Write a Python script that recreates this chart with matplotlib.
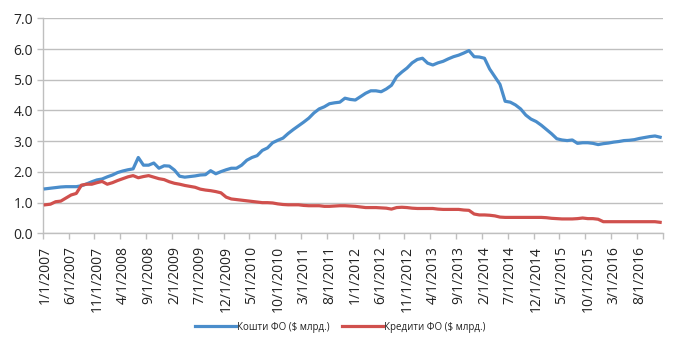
"""Ukrainian household deposits vs. loans, monthly, 2007-2016 ($ bn)."""

import matplotlib

matplotlib.use("Agg")
import matplotlib.pyplot as plt

plt.rcParams["font.family"] = ["Open Sans", "DejaVu Sans"]

START_YEAR = 2007
N_MONTHS = 120

deposits = [
    1.45, 1.47, 1.49, 1.51, 1.52, 1.52, 1.52, 1.55, 1.61, 1.68,
    1.74, 1.77, 1.84, 1.90, 1.98, 2.03, 2.07, 2.10, 2.47, 2.22,
    2.22, 2.29, 2.12, 2.20, 2.19, 2.06, 1.86, 1.83, 1.85, 1.87,
    1.90, 1.91, 2.04, 1.94, 2.01, 2.07, 2.12, 2.12, 2.22, 2.38,
    2.47, 2.53, 2.70, 2.78, 2.95, 3.03, 3.10, 3.25, 3.38, 3.50,
    3.62, 3.75, 3.92, 4.05, 4.12, 4.22, 4.25, 4.27, 4.40, 4.36,
    4.34, 4.45, 4.56, 4.64, 4.64, 4.61, 4.70, 4.82, 5.10, 5.25,
    5.38, 5.55, 5.66, 5.70, 5.54, 5.48, 5.55, 5.60, 5.68, 5.75,
    5.80, 5.87, 5.95, 5.75, 5.74, 5.70, 5.35, 5.10, 4.85, 4.30,
    4.27, 4.18, 4.05, 3.85, 3.72, 3.64, 3.52, 3.38, 3.24, 3.08,
    3.04, 3.02, 3.04, 2.93, 2.95, 2.95, 2.93, 2.89, 2.92, 2.94,
    2.97, 2.99, 3.02, 3.03, 3.05, 3.09, 3.12, 3.15, 3.17, 3.13,
]

loans = [
    0.93, 0.95, 1.03, 1.05, 1.15, 1.25, 1.30, 1.57, 1.60, 1.60,
    1.65, 1.69, 1.60, 1.65, 1.72, 1.78, 1.84, 1.88, 1.81, 1.85,
    1.88, 1.83, 1.78, 1.75, 1.68, 1.63, 1.60, 1.56, 1.53, 1.50,
    1.44, 1.41, 1.39, 1.36, 1.32, 1.18, 1.12, 1.10, 1.08, 1.06,
    1.04, 1.02, 1.00, 1.00, 0.99, 0.96, 0.94, 0.93, 0.93, 0.93,
    0.91, 0.90, 0.90, 0.90, 0.88, 0.88, 0.89, 0.90, 0.90, 0.89,
    0.88, 0.86, 0.84, 0.84, 0.84, 0.83, 0.82, 0.79, 0.84, 0.85,
    0.84, 0.82, 0.81, 0.81, 0.81, 0.81, 0.79, 0.78, 0.78, 0.78,
    0.78, 0.76, 0.75, 0.63, 0.60, 0.60, 0.59, 0.57, 0.53, 0.52,
    0.52, 0.52, 0.52, 0.52, 0.52, 0.52, 0.52, 0.51, 0.49, 0.48,
    0.47, 0.47, 0.47, 0.48, 0.50, 0.48, 0.48, 0.46, 0.38, 0.38,
    0.38, 0.38, 0.38, 0.38, 0.38, 0.38, 0.38, 0.38, 0.38, 0.36,
]

LABEL_DEPOSITS = "Кошти ФО ($ млрд.)"
LABEL_LOANS = "Кредити ФО ($ млрд.)"

BLUE = "#4A8DCB"
RED = "#D0504D"
GRID = "#BFBFBF"
TEXT = "#222222"

months = list(range(N_MONTHS))
labels = [
    f"{m % 12 + 1}/1/{START_YEAR + m // 12}" for m in range(0, N_MONTHS, 5)
]

fig = plt.figure(figsize=(6.8, 3.52), dpi=100)
ax = fig.add_axes([0.0628, 0.337, 0.9118, 0.611])

ax.plot(months, deposits, color=BLUE, linewidth=2.3, label=LABEL_DEPOSITS,
        solid_joinstyle="round", zorder=3)
ax.plot(months, loans, color=RED, linewidth=2.3, label=LABEL_LOANS,
        solid_joinstyle="round", zorder=3)

ax.set_xlim(-0.5, N_MONTHS - 0.5)
ax.set_ylim(0, 7)
ax.set_yticks([i for i in range(8)])
ax.set_yticklabels([f"{i:.1f}" for i in range(8)])
ax.grid(axis="y", color=GRID, linewidth=1.0, zorder=0)
ax.set_axisbelow(True)

# Excel-style category axis: tick marks on boundaries, labels on centers.
ax.set_xticks(list(range(0, N_MONTHS, 5)))
ax.set_xticklabels(labels, rotation=90)
ax.set_xticks([b - 0.5 for b in range(0, N_MONTHS + 1, 5)], minor=True)
ax.tick_params(axis="x", which="major", length=0, pad=9, labelsize=10,
               labelcolor=TEXT)
ax.tick_params(axis="x", which="minor", length=4, color=GRID, width=1)
ax.tick_params(axis="y", length=4, color=GRID, width=1, labelsize=10,
               labelcolor=TEXT, pad=3)

for side in ("top", "right"):
    ax.spines[side].set_visible(False)
for side in ("left", "bottom"):
    ax.spines[side].set_color(GRID)
    ax.spines[side].set_linewidth(1.0)

fig.legend(loc="center", bbox_to_anchor=(0.5, 0.07), ncol=2, frameon=False,
           fontsize=7, handlelength=4.2, handletextpad=0.1,
           columnspacing=1.3, labelcolor=TEXT)

fig.savefig("out.png", dpi=100)
